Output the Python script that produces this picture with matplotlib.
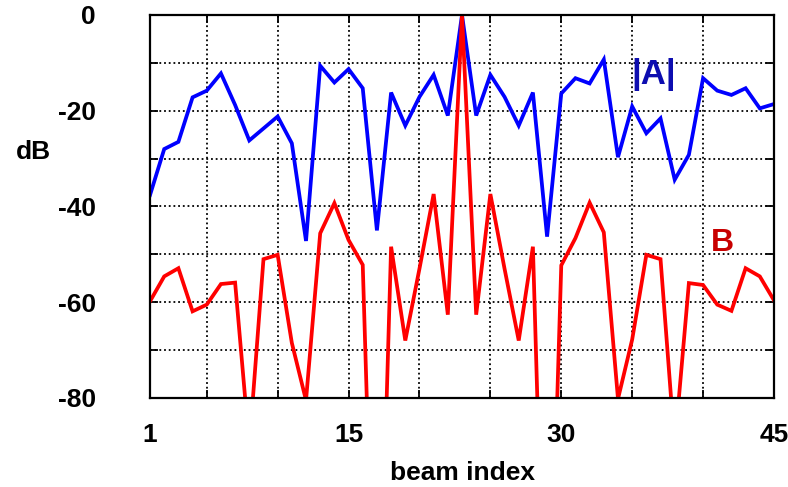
import matplotlib
matplotlib.use("Agg")
import matplotlib.pyplot as plt

plt.rcParams['font.family'] = ['Liberation Sans', 'DejaVu Sans']
plt.rcParams['font.weight'] = 'bold'

beam = list(range(1, 46))

# |A| response in dB
a_db = [-37.6, -28.0, -26.5, -17.2, -15.8, -12.2, -18.8, -26.2, -23.7, -21.2,
        -26.8, -47.2, -10.6, -14.1, -11.3, -15.3, -45.0, -16.2, -23.1, -17.1,
        -12.5, -21.0, 0.0, -21.0, -12.5, -17.1, -23.1, -16.2, -46.3, -16.4,
        -13.2, -14.3, -9.3, -29.7, -19.1, -24.7, -21.6, -34.4, -29.2, -13.2,
        -15.8, -16.7, -15.3, -19.5, -18.6]

# B response in dB
b_db = [-59.8, -54.6, -52.9, -61.9, -60.5, -56.2, -55.9, -90.0, -51.0, -50.1,
        -68.5, -80.5, -45.6, -39.3, -47.0, -52.2, -150.0, -48.4, -68.0, -53.0,
        -37.4, -62.6, 0.0, -62.6, -37.4, -53.0, -68.0, -48.4, -150.0, -52.3,
        -46.6, -39.2, -45.4, -80.2, -67.8, -50.1, -51.0, -90.0, -56.0, -56.4,
        -60.5, -61.8, -52.9, -54.6, -59.6]

x_ticks = [1, 5, 10, 15, 20, 25, 30, 35, 40, 45]
x_labels = ['1', '', '', '15', '', '', '30', '', '', '45']
y_ticks = [0, -10, -20, -30, -40, -50, -60, -70, -80]
y_labels = ['0', '', '-20', '', '-40', '', '-60', '', '-80']

fig = plt.figure(figsize=(7.88, 4.87), dpi=100)
ax = fig.add_axes([0.1904, 0.1828, 0.9822 - 0.1904, 0.9692 - 0.1828])

ax.plot(beam, a_db, color='#0000ff', lw=2.7, solid_joinstyle='miter')
ax.plot(beam, b_db, color='#ff0000', lw=2.7, solid_joinstyle='miter')

ax.set_xlim(1, 45)
ax.set_ylim(-80, 0)
ax.set_xticks(x_ticks)
ax.set_xticklabels(x_labels)
ax.set_yticks(y_ticks)
ax.set_yticklabels(y_labels)

ax.grid(True, linestyle=(0, (1, 1.6)), color='black', lw=1.3)
ax.tick_params(axis='both', which='major', direction='in', length=6, width=1.3,
               top=True, right=True, labelsize=19)
ax.tick_params(axis='y', pad=39)
ax.tick_params(axis='x', pad=18)
for lbl in ax.get_xticklabels() + ax.get_yticklabels():
    lbl.set_fontweight('bold')
for s in ax.spines.values():
    s.set_linewidth(1.6)

ax.set_xlabel('beam index', fontsize=19, fontweight='bold', labelpad=10)
fig.text(33 / 788, 1 - 152 / 487, 'dB', fontsize=19, fontweight='bold',
         ha='center', va='center')

ax.text(36.5, -12.4, '|A|', color='#0d0db0', fontsize=25, fontweight='bold',
        ha='center', va='center')
ax.text(41.4, -47.6, 'B', color='#c80000', fontsize=23, fontweight='bold',
        ha='center', va='center')

fig.savefig('out.png', dpi=100)
